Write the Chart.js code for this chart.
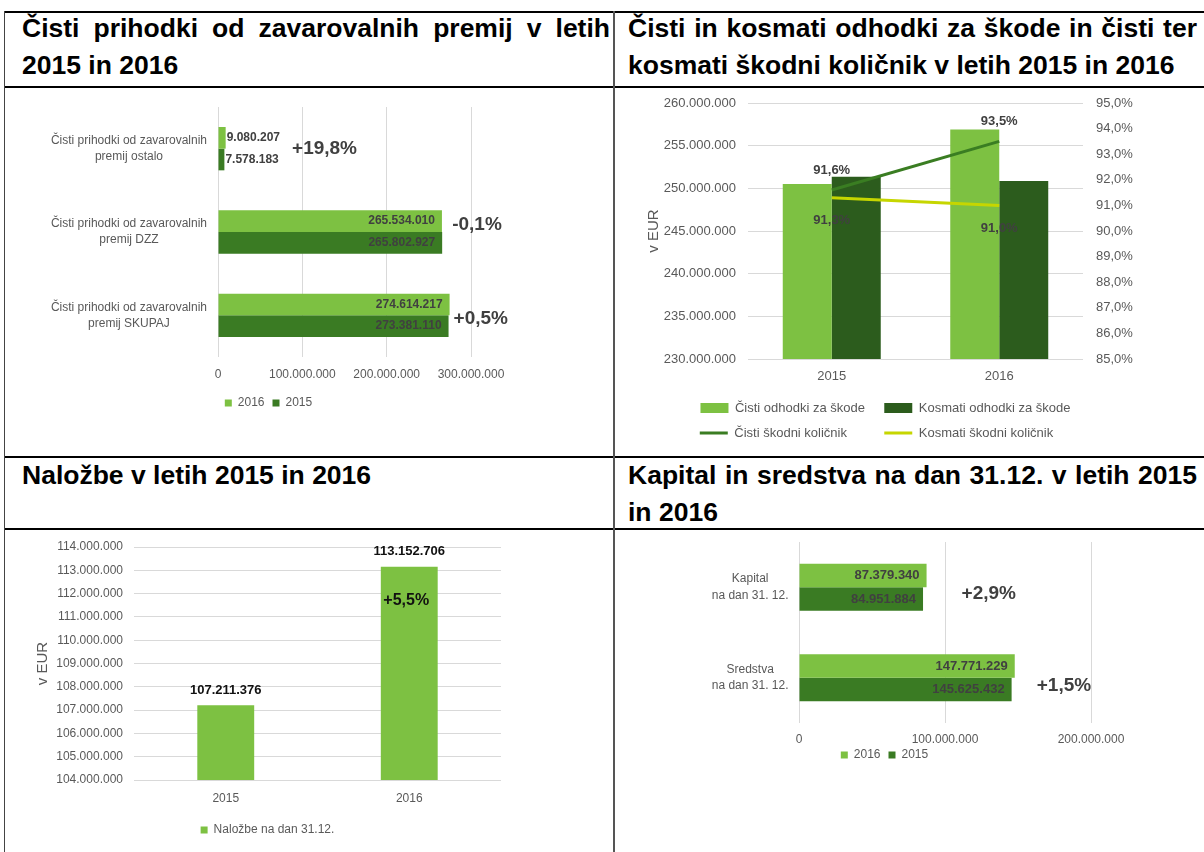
<!DOCTYPE html>
<html>
<head>
<meta charset="utf-8">
<script src="https://cdn.jsdelivr.net/npm/chart.js@4/dist/chart.umd.min.js"></script>
<style>
  body { margin: 0; width: 1204px; height: 852px; overflow: hidden; background: #fff; position: relative; font-family: "Liberation Sans", Arial, sans-serif; }
  .hl { position: absolute; left: 4px; width: 1200px; height: 2px; background: #000; }
  .vl { position: absolute; top: 11px; height: 841px; }
  .title { position: absolute; font-weight: bold; font-size: 26.5px; line-height: 37px; text-align: justify; color: #000; }
  .box { position: absolute; }
</style>
</head>
<body>
<div class="hl" style="top:11px"></div>
<div class="hl" style="top:86px"></div>
<div class="hl" style="top:456px"></div>
<div class="hl" style="top:528px"></div>
<div class="vl" style="left:4px;width:1px;background:#444"></div>
<div class="vl" style="left:613px;width:2px;background:#555"></div>

<div class="title" style="left:22px;top:10px;width:588px">Čisti prihodki od zavarovalnih premij v letih 2015 in 2016</div>
<div class="title" style="left:628px;top:10px;width:569px">Čisti in kosmati odhodki za škode in čisti ter kosmati škodni količnik v letih 2015 in 2016</div>
<div class="title" style="left:22px;top:457px;width:588px">Naložbe v letih 2015 in 2016</div>
<div class="title" style="left:628px;top:457px;width:569px">Kapital in sredstva na dan 31.12. v letih 2015 in 2016</div>

<div class="box" style="left:6px;top:89px"><canvas id="premije" width="607" height="367"></canvas></div>
<div class="box" style="left:615px;top:89px"><canvas id="skode" width="589" height="367"></canvas></div>
<div class="box" style="left:6px;top:531px"><canvas id="nalozbe" width="607" height="321"></canvas></div>
<div class="box" style="left:615px;top:531px"><canvas id="kapital" width="589" height="321"></canvas></div>

<script>
// Čisti prihodki od zavarovalnih premij
const premCategories = [
  ["Čisti prihodki od zavarovalnih", "premij ostalo"],
  ["Čisti prihodki od zavarovalnih", "premij DZZ"],
  ["Čisti prihodki od zavarovalnih", "premij SKUPAJ"]
];
const prem2016 = [9080207, 265534010, 274614217];
const prem2015 = [7578183, 265802927, 273381110];
const premChange = ["+19,8%", "-0,1%", "+0,5%"];

// Odhodki za škode in škodni količnik
const claimYears = ["2015", "2016"];
const claimsNet = [250500000, 256900000];
const claimsGross = [251350000, 250850000];
const ratioNet = [91.6, 93.5];
const ratioGross = [91.3, 91.0];

// Naložbe
const invYears = ["2015", "2016"];
const investments = [107211376, 113152706];
const invChange = ["", "+5,5%"];

// Kapital in sredstva
const capCategories = [["Kapital", "na dan 31. 12."], ["Sredstva", "na dan 31. 12."]];
const cap2016 = [87379340, 147771229];
const cap2015 = [84951884, 145625432];
const capChange = ["+2,9%", "+1,5%"];

const FONT = "'Liberation Sans', Arial, sans-serif";
const LIGHT = "#7DC142";
const DARK = "#3A7B23";
const DARKER = "#2C5C1D";
const LINE_NET = "#3A7D22";
const LINE_GROSS = "#C6D600";
const GRID = "#D9D9D9";
const TXT = "#595959";
const LBL = "#404040";

Chart.defaults.font.family = FONT;
Chart.defaults.color = TXT;
Chart.defaults.animation = false;
Chart.defaults.plugins.tooltip.enabled = false;

const fmt = v => String(Math.round(v)).replace(/\B(?=(\d{3})+(?!\d))/g, ".");
const pct = v => Number(v).toFixed(1).replace(".", ",") + "%";

// fixed axis size, no extra space reserved for overhanging labels
const fixWidth = w => s => { s.width = w; s.paddingTop = 0; s.paddingBottom = 0; };

function drawText(ctx, text, x, y, font, color, align) {
  ctx.save();
  ctx.font = font;
  ctx.fillStyle = color;
  ctx.textAlign = align;
  ctx.textBaseline = "middle";
  ctx.fillText(text, x, y);
  ctx.restore();
}

// move the legend box after layout (Excel centres it differently)
const legendShift = (dx, dy) => ({
  id: "legendShift",
  afterLayout(chart) {
    const l = chart.legend;
    l.left += dx; l.right += dx;
    l.top += dy; l.bottom += dy;
  }
});

// labels for horizontal bars + change percentage right of each group
function hbarLabels(changes, gaps, shifts, labelFont) {
  return {
    id: "hbarLabels",
    afterDatasetsDraw(chart) {
      const ctx = chart.ctx;
      const ends = [];
      chart.data.datasets.forEach((ds, i) => {
        chart.getDatasetMeta(i).data.forEach((bar, j) => {
          const text = fmt(ds.data[j]);
          ctx.font = labelFont;
          const w = ctx.measureText(text).width;
          let end = bar.x;
          if (bar.x - bar.base > w + 14) {
            drawText(ctx, text, bar.x - 7, bar.y, labelFont, LBL, "right");
          } else {
            drawText(ctx, text, bar.x + 1, bar.y, labelFont, LBL, "left");
            end = bar.x + 1 + w;
          }
          ends[j] = Math.max(ends[j] || 0, end);
        });
      });
      changes.forEach((t, j) => {
        const y = chart.scales.y.getPixelForValue(j) + shifts[j];
        drawText(ctx, t, ends[j] + gaps[j], y, "bold 19px " + FONT, LBL, "left");
      });
    }
  };
}

const smallLegend = (padding) => ({
  position: "bottom",
  labels: { boxWidth: 7, boxHeight: 7, padding: padding, font: { size: 12 }, color: TXT }
});

// 1) Premije
new Chart(document.getElementById("premije"), {
  type: "bar",
  data: {
    labels: premCategories,
    datasets: [
      { label: "2016", data: prem2016, backgroundColor: LIGHT },
      { label: "2015", data: prem2015, backgroundColor: DARK }
    ]
  },
  options: {
    responsive: false,
    indexAxis: "y",
    layout: { padding: { left: 40, right: 142, top: 18, bottom: 37 } },
    datasets: { bar: { categoryPercentage: 0.52, barPercentage: 1 } },
    scales: {
      x: {
        min: 0, max: 300000000,
        ticks: { stepSize: 100000000, callback: v => fmt(v), font: { size: 12 }, padding: 10 },
        grid: { color: GRID, drawTicks: false },
        border: { display: false },
        afterFit: s => { s.height = 32; }
      },
      y: {
        ticks: { font: { size: 12, lineHeight: 1.35 }, crossAlign: "center", padding: 11 },
        grid: { display: false, drawTicks: false },
        border: { display: false },
        afterFit: fixWidth(172)
      }
    },
    plugins: { legend: smallLegend(8) }
  },
  plugins: [hbarLabels(premChange, [12, 10, 4], [0, -7, 3], "bold 12px " + FONT), legendShift(10, 0)]
});

// 2) Odhodki za škode
new Chart(document.getElementById("skode"), {
  type: "bar",
  data: {
    labels: claimYears,
    datasets: [
      { label: "Čisti odhodki za škode", data: claimsNet, backgroundColor: LIGHT, yAxisID: "y", order: 2 },
      { label: "Kosmati odhodki za škode", data: claimsGross, backgroundColor: DARKER, yAxisID: "y", order: 2 },
      { type: "line", label: "Čisti škodni količnik", data: ratioNet, borderColor: LINE_NET, backgroundColor: LINE_NET,
        borderWidth: 3, pointRadius: 0, yAxisID: "y1", order: 1 },
      { type: "line", label: "Kosmati škodni količnik", data: ratioGross, borderColor: LINE_GROSS, backgroundColor: LINE_GROSS,
        borderWidth: 3, pointRadius: 0, yAxisID: "y1", order: 1 }
    ]
  },
  options: {
    responsive: false,
    layout: { padding: { left: 30, right: 61, top: 14, bottom: 6.5 } },
    datasets: { bar: { categoryPercentage: 0.585, barPercentage: 1 } },
    scales: {
      x: {
        ticks: { font: { size: 13 }, padding: 10 },
        grid: { display: false, drawTicks: false },
        border: { display: false },
        afterFit: s => { s.height = 30.5; }
      },
      y: {
        min: 230000000, max: 260000000,
        ticks: { stepSize: 5000000, callback: v => fmt(v), font: { size: 13 }, padding: 12 },
        grid: { color: GRID, drawTicks: false },
        border: { display: false },
        title: { display: true, text: "v EUR", font: { size: 15 }, color: TXT, padding: 0 },
        afterFit: fixWidth(103)
      },
      y1: {
        position: "right",
        min: 85, max: 95,
        ticks: { stepSize: 1, callback: v => pct(v), font: { size: 13 }, padding: 13 },
        grid: { display: false, drawTicks: false },
        border: { display: false },
        afterFit: fixWidth(60)
      }
    },
    plugins: {
      legend: {
        position: "bottom",
        labels: {
          usePointStyle: true, pointStyleWidth: 28, boxHeight: 10, padding: 12,
          font: { size: 13 }, color: TXT,
          generateLabels(chart) {
            const items = Chart.defaults.plugins.legend.labels.generateLabels(chart)
              .sort((a, b) => a.datasetIndex - b.datasetIndex);
            const ctx = chart.ctx;
            ctx.save();
            ctx.font = "13px " + FONT;
            items.forEach(it => { it.pointStyle = it.datasetIndex < 2 ? "rect" : "line"; });
            // pad texts so both legend rows have equal columns
            [0, 1].forEach(c => {
              const a = items[c], b = items[c + 2];
              const target = Math.max(ctx.measureText(a.text).width, ctx.measureText(b.text).width) + (c === 0 ? 7 : 0);
              [a, b].forEach(it => {
                while (ctx.measureText(it.text + " ").width <= target + 1.8) it.text += " ";
              });
            });
            ctx.restore();
            return items;
          }
        }
      }
    }
  },
  plugins: [{
    id: "ratioLabels",
    afterDatasetsDraw(chart) {
      const ctx = chart.ctx;
      const f = "bold 13px " + FONT;
      chart.getDatasetMeta(2).data.forEach((p, j) => drawText(ctx, pct(ratioNet[j]), p.x, p.y - 20, f, LBL, "center"));
      chart.getDatasetMeta(3).data.forEach((p, j) => drawText(ctx, pct(ratioGross[j]), p.x, p.y + 23, f, LBL, "center"));
    }
  }, legendShift(-8.5, 0)]
});

// 3) Naložbe
new Chart(document.getElementById("nalozbe"), {
  type: "bar",
  data: {
    labels: invYears,
    datasets: [{ label: "Naložbe na dan 31.12.", data: investments, backgroundColor: LIGHT }]
  },
  options: {
    responsive: false,
    layout: { padding: { left: 28, right: 112, top: 16, bottom: 6 } },
    datasets: { bar: { categoryPercentage: 1, barPercentage: 0.31 } },
    scales: {
      x: {
        ticks: { font: { size: 12 }, padding: 11 },
        grid: { display: false, drawTicks: false },
        border: { display: false },
        afterFit: s => { s.height = 34; }
      },
      y: {
        min: 104000000, max: 114000000,
        ticks: { stepSize: 1000000, callback: v => fmt(v), font: { size: 12 }, padding: 11 },
        grid: { color: GRID, drawTicks: false },
        border: { display: false },
        title: { display: true, text: "v EUR", font: { size: 15 }, color: TXT, padding: 0 },
        afterFit: fixWidth(100)
      }
    },
    plugins: { legend: smallLegend(10) }
  },
  plugins: [{
    id: "invLabels",
    afterDatasetsDraw(chart) {
      const ctx = chart.ctx;
      chart.getDatasetMeta(0).data.forEach((bar, j) => {
        drawText(ctx, fmt(investments[j]), bar.x, bar.y - 15, "bold 13px " + FONT, "#111", "center");
        if (invChange[j]) drawText(ctx, invChange[j], bar.x - 3, bar.y + 34, "bold 16px " + FONT, "#111", "center");
      });
    }
  }]
});

// 4) Kapital in sredstva
new Chart(document.getElementById("kapital"), {
  type: "bar",
  data: {
    labels: capCategories,
    datasets: [
      { label: "2016", data: cap2016, backgroundColor: LIGHT },
      { label: "2015", data: cap2015, backgroundColor: DARK }
    ]
  },
  options: {
    responsive: false,
    indexAxis: "y",
    layout: { padding: { left: 63, right: 113, top: 11, bottom: 73 } },
    datasets: { bar: { categoryPercentage: 0.52, barPercentage: 1 } },
    scales: {
      x: {
        min: 0, max: 200000000,
        ticks: { stepSize: 100000000, callback: v => fmt(v), font: { size: 12 }, padding: 9 },
        grid: { color: GRID, drawTicks: false },
        border: { display: false },
        afterFit: s => { s.height = 26; }
      },
      y: {
        ticks: { font: { size: 12, lineHeight: 1.4 }, crossAlign: "center", padding: 10.5 },
        grid: { display: false, drawTicks: false },
        border: { display: false },
        afterFit: fixWidth(121)
      }
    },
    plugins: { legend: smallLegend(8) }
  },
  plugins: [hbarLabels(capChange, [35, 22], [7, 8], "bold 13px " + FONT), legendShift(0, -8)]
});
</script>
</body>
</html>
